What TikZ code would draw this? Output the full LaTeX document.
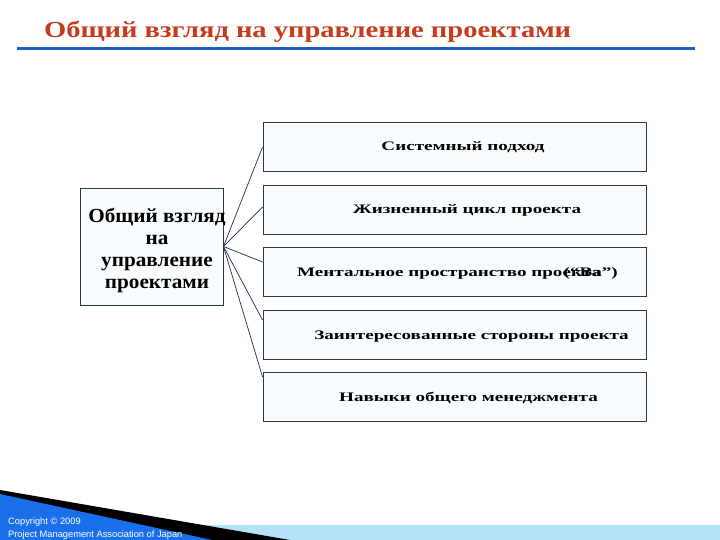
\documentclass[tikz,border=0pt]{standalone}
\usepackage{fontspec}
\setmainfont{Liberation Serif}
\newfontfamily\sansf{Liberation Sans}
\newfontfamily\titlef[FakeStretch=1.24]{Liberation Serif}
\newfontfamily\boxf[FakeStretch=1.47]{Liberation Serif}
\newfontfamily\leftf[FakeStretch=1.06]{Liberation Serif}
\definecolor{titlered}{HTML}{C63B1C}
\definecolor{ruleblue}{HTML}{1E5EC0}
\definecolor{boxline}{HTML}{2B3848}
\definecolor{boxfill}{HTML}{F9FCFE}
\definecolor{linkcol}{HTML}{1F2C55}
\definecolor{footblue}{HTML}{1A70EA}
\definecolor{lightband}{HTML}{B6E2F7}
\begin{document}
\begin{tikzpicture}[x=1pt,y=-1pt,
  box/.style={draw=boxline,fill=boxfill,line width=0.9pt,inner sep=0pt,minimum width=383pt,minimum height=49pt},
  lbl/.style={font=\boxf\bfseries\fontsize{13}{16}\selectfont,inner sep=0pt,text=black},
  link/.style={draw=linkcol,line width=0.7pt}]
\useasboundingbox (0,0) rectangle (720,540);
\fill[white] (0,0) rectangle (720,540);
% title
\node[font=\titlef\bfseries\fontsize{23}{27}\selectfont,text=titlered,anchor=base west,inner sep=0pt] (title) at (44,38) {Общий взгляд на управление проектами};
\draw[ruleblue,line width=3pt] (17,49) -- (695,49);
% left box
\node[draw=boxline,fill=boxfill,line width=0.9pt,minimum width=143pt,minimum height=117pt,inner sep=0pt] (lb) at (151.5,246.5) {};
\node[font=\leftf\bfseries\fontsize{20}{21.7}\selectfont,align=center,inner sep=0pt,anchor=base] (lt) at (157,288) {Общий взгляд\\на\\управление\\проектами};
% right boxes
\node[box] (b1) at (454.5,147) {};
\node[box] (b2) at (454.5,210) {};
\node[box] (b3) at (454.5,271.5) {};
\node[box] (b4) at (454.5,334.5) {};
\node[box] (b5) at (454.5,397) {};
\node[lbl,anchor=base] (t1) at (463,151) {Системный подход};
\node[lbl,anchor=base] (t2) at (467,214) {Жизненный цикл проекта};
\node[lbl,anchor=base west] (t3) at (297,276) {Ментальное пространство проекта};
\node[lbl,anchor=base east] (t3b) at (618,276) {(“Ba”)};
\node[lbl,anchor=base] (t4) at (471.5,339) {Заинтересованные стороны проекта};
\node[lbl,anchor=base] (t5) at (468.5,401) {Навыки общего менеджмента};
% connectors
\coordinate (hub) at (lb.east);
\draw[link] (hub) -- (b1.west);
\draw[link] (hub) -- ([yshift=3pt]b2.west);
\draw[link] (hub) -- ([yshift=9.5pt]b3.west);
\draw[link] (hub) -- ([yshift=14.5pt]b4.west);
\draw[link] (hub) -- ([yshift=20pt]b5.west);
% footer
\fill[lightband] (200,525) rectangle (720,540);
\fill[black] (0,490) -- (290,540) -- (0,540) -- cycle;
\fill[footblue] (0,494) -- (212,540) -- (0,540) -- cycle;
\node[font=\sansf\fontsize{9.3}{13}\selectfont,text=white,anchor=base west,align=left,inner sep=0pt] (copy) at (8,537) {Copyright © 2009\\Project Management Association of Japan};
\end{tikzpicture}
\end{document}
